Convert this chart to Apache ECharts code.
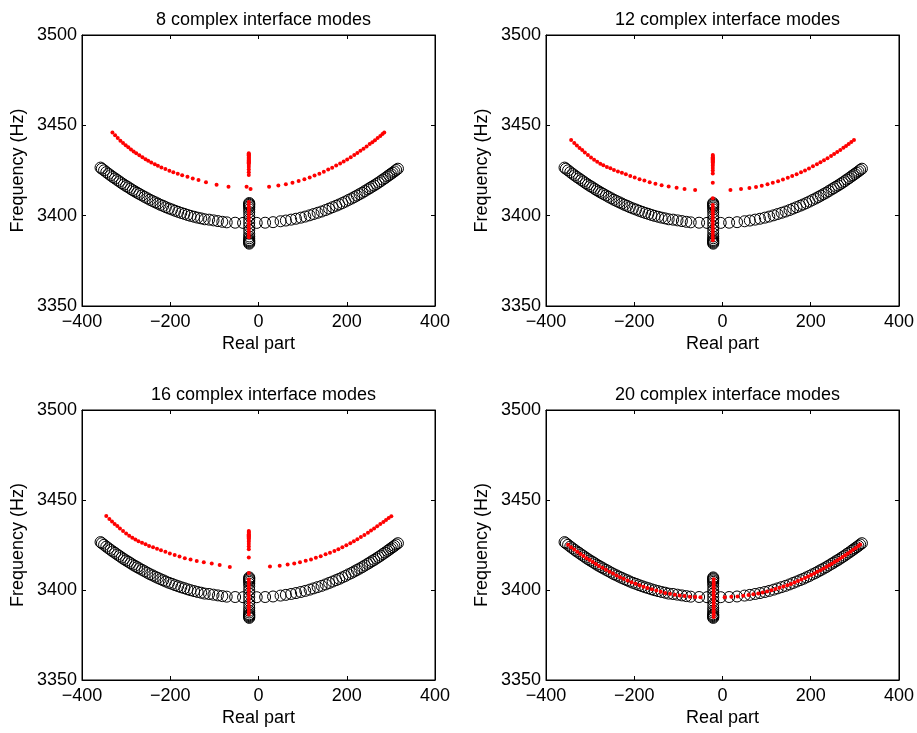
<!DOCTYPE html>
<html>
<head>
<meta charset="utf-8">
<script src="https://cdn.jsdelivr.net/npm/echarts@6/dist/echarts.min.js"></script>
<style>html,body{margin:0;padding:0;background:#fff}#c{width:917px;height:733px}</style>
</head>
<body>
<div id="c"></div>
<script>
// ---------- data ----------
var titles = ['8 complex interface modes','12 complex interface modes','16 complex interface modes','20 complex interface modes'];
var xTicks = [-400,-200,0,200,400];
var yTicks = [3350,3400,3450,3500];

// reference (exact) modes, black open circles - same in every panel
var blackLeft = [[-358,3426.6],[-355,3426.0],[-350,3425.1],[-345,3424.1],[-340,3423.2],[-335,3422.3],[-330,3421.4],[-325,3420.6],[-320,3419.7],[-315,3418.9],[-310,3418.0],[-305,3417.2],[-300,3416.4],[-295,3415.7],[-290,3414.9],[-285,3414.1],[-280,3413.4],[-275,3412.7],[-270,3412.0],[-264,3411.2],[-258,3410.4],[-252,3409.6],[-246,3408.8],[-240,3408.1],[-234,3407.4],[-228,3406.7],[-222,3406.0],[-216,3405.4],[-210,3404.7],[-203,3404.0],[-196,3403.4],[-189,3402.7],[-182,3402.1],[-175,3401.5],[-168,3401.0],[-161,3400.4],[-154,3399.9],[-146,3399.4],[-138,3398.9],[-130,3398.5],[-122,3398.0],[-112,3397.8],[-102,3397.4],[-92,3397.0],[-82,3396.6],[-72,3396.3],[-53,3396.1],[-35,3396.0]];
var blackColumn = [[-21,3384.5],[-21,3385],[-21,3385.5],[-21,3386],[-21,3386.5],[-21,3387.5],[-21,3388.5],[-21,3390],[-21,3392],[-21,3394],[-21,3396],[-21,3398],[-21,3400],[-21,3402],[-21,3403.5],[-21,3404.5],[-21,3405.3],[-21,3406],[-21,3406.5],[-21,3407]];
var blackRight = [[-4,3396.0],[15,3396.1],[33,3396.4],[50,3396.9],[62,3397.3],[74,3397.8],[85,3398.3],[96,3398.9],[106,3399.5],[116,3400.2],[125,3400.9],[134,3401.6],[143,3402.3],[152,3403.1],[160,3403.9],[168,3404.7],[176,3405.5],[183,3406.2],[190,3407.0],[197,3407.8],[204,3408.7],[211,3409.5],[217,3410.3],[223,3411.1],[229,3411.9],[235,3412.7],[241,3413.6],[247,3414.5],[252,3415.2],[257,3416.0],[262,3416.7],[267,3417.5],[272,3418.3],[277,3419.1],[282,3420.0],[287,3420.8],[292,3421.7],[296,3422.4],[300,3423.1],[304,3423.8],[308,3424.5],[312,3425.3],[316,3426.0]];

// approximated modes, red dots - one set per panel
var red8 = [[-331,3446.0],[-325,3444.5],[-319,3443.0],[-313,3441.5],[-307,3440.2],[-301,3439.0],[-295,3437.8],[-289,3436.6],[-283,3435.5],[-277,3434.5],[-270,3433.4],[-263,3432.3],[-256,3431.2],[-250,3430.4],[-243,3429.4],[-235,3428.4],[-228,3427.6],[-220,3426.7],[-211,3425.8],[-202,3424.9],[-193,3424.1],[-183,3423.2],[-173,3422.4],[-161,3421.5],[-149,3420.6],[-136,3419.7],[-119,3418.5],[-95,3417.1],[-68,3416.0],
  [-27,3416.0],[-18,3414.7],
  [-22,3434.5],[-22,3434],[-22,3433.5],[-22,3433],[-22,3432.5],[-22,3432],[-22,3431.5],[-22,3431],[-22,3430.5],[-22,3430],[-22,3429.5],[-22,3429],[-22,3428],[-22,3427],[-22,3425.5],[-22,3424],[-22,3422.5],
  [-22,3407.5],[-22,3406],[-22,3404.5],[-22,3403],[-22,3401.5],[-22,3400],[-22,3398.5],[-22,3397],[-22,3395.5],[-22,3394],[-22,3392.5],[-22,3391],[-22,3389.5],[-22,3388],
  [24,3416.0],[45,3416.7],[62,3417.4],[77,3418.2],[91,3419.2],[104,3420.1],[116,3421.1],[127,3422.2],[138,3423.2],[148,3424.3],[158,3425.5],[167,3426.5],[176,3427.7],[185,3428.9],[193,3430.0],[201,3431.1],[209,3432.3],[217,3433.6],[224,3434.7],[231,3435.9],[238,3437.1],[245,3438.3],[252,3439.6],[258,3440.7],[264,3441.8],[270,3443.0],[276,3444.1],[281,3445.2],[285,3446.0]];
var red12 = [[-343,3441.9],[-336,3440.2],[-330,3438.8],[-324,3437.5],[-318,3436.3],[-312,3435.0],[-305,3433.6],[-298,3432.2],[-291,3431.0],[-284,3429.8],[-277,3428.8],[-270,3427.9],[-262,3427.0],[-254,3426.2],[-246,3425.3],[-237,3424.5],[-228,3423.7],[-219,3422.9],[-209,3422.0],[-199,3421.1],[-188,3420.2],[-177,3419.4],[-165,3418.5],[-152,3417.7],[-138,3416.9],[-122,3416.2],[-104,3415.5],[-86,3414.8],[-62,3414.2],
  [-22,3433.6],[-22,3433],[-22,3432.4],[-22,3431.8],[-22,3431.2],[-22,3430.6],[-22,3430],[-22,3429.4],[-22,3428.6],[-22,3427.6],[-22,3426.4],[-22,3425],[-22,3423.4],[-22,3418.2],[-22,3409.6],
  [-22,3405.9],[-22,3404.4],[-22,3402.9],[-22,3401.4],[-22,3399.9],[-22,3398.4],[-22,3396.9],[-22,3395.4],[-22,3393.9],[-22,3392.4],[-22,3390.9],[-22,3389.4],[-22,3387.9],[-22,3386.4],
  [18,3414.2],[42,3414.7],[61,3415.3],[76,3415.9],[89,3416.6],[102,3417.4],[114,3418.2],[126,3419.1],[137,3420.0],[148,3421.0],[158,3421.9],[168,3422.9],[178,3424.0],[187,3425.0],[196,3426.1],[205,3427.3],[214,3428.4],[222,3429.5],[230,3430.7],[238,3431.8],[246,3433.0],[253,3434.1],[260,3435.3],[267,3436.4],[274,3437.6],[280,3438.6],[286,3439.7],[292,3440.8],[298,3441.9]];
var red16 = [[-345,3441.1],[-338,3439.4],[-332,3438.0],[-326,3436.7],[-320,3435.5],[-314,3434.2],[-307,3432.8],[-300,3431.4],[-293,3430.2],[-286,3429.0],[-279,3428.0],[-272,3427.1],[-264,3426.2],[-256,3425.4],[-248,3424.5],[-239,3423.7],[-230,3422.9],[-221,3422.1],[-211,3421.2],[-201,3420.3],[-190,3419.4],[-179,3418.6],[-167,3417.7],[-154,3416.9],[-140,3416.1],[-124,3415.4],[-106,3414.7],[-88,3413.9],[-65,3412.8],
  [-22,3432.8],[-22,3432.2],[-22,3431.6],[-22,3431],[-22,3430.4],[-22,3429.8],[-22,3429.2],[-22,3428.6],[-22,3427.8],[-22,3426.8],[-22,3425.6],[-22,3424.2],[-22,3422.6],[-22,3418],[-22,3409.5],
  [-22,3405.9],[-22,3404.4],[-22,3402.9],[-22,3401.4],[-22,3399.9],[-22,3398.4],[-22,3396.9],[-22,3395.4],[-22,3393.9],[-22,3392.4],[-22,3390.9],[-22,3389.4],[-22,3387.9],[-22,3386.4],
  [26,3413.0],[48,3413.5],[66,3414.1],[81,3414.7],[94,3415.4],[107,3416.2],[119,3417.0],[130,3417.9],[141,3418.8],[152,3419.8],[162,3420.7],[172,3421.7],[181,3422.7],[190,3423.7],[199,3424.8],[208,3426.0],[216,3427.1],[224,3428.2],[232,3429.4],[240,3430.6],[248,3431.8],[255,3433.0],[262,3434.2],[269,3435.4],[276,3436.6],[283,3437.8],[289,3438.9],[295,3440.0],[301,3441.0]];
var red20 = [[-350,3425.1],[-343,3423.8],[-336,3422.5],[-329,3421.3],[-322,3420.0],[-315,3418.9],[-308,3417.7],[-301,3416.6],[-294,3415.5],[-287,3414.4],[-280,3413.4],[-272,3412.3],[-264,3411.2],[-256,3410.1],[-248,3409.1],[-240,3408.1],[-232,3407.1],[-224,3406.2],[-215,3405.3],[-206,3404.3],[-197,3403.5],[-188,3402.6],[-179,3401.8],[-170,3401.1],[-160,3400.4],[-150,3399.7],[-140,3399.0],[-130,3398.4],[-119,3397.9],[-108,3397.4],[-97,3397.0],[-86,3396.6],[-74,3396.3],[-62,3396.1],[-50,3396.0],
  [-20,3385],[-20,3386.5],[-20,3388],[-20,3389.5],[-20,3391],[-20,3392.5],[-20,3394],[-20,3395.5],[-20,3397],[-20,3398.5],[-20,3400],[-20,3401.5],[-20,3403],[-20,3404.5],[-20,3406],
  [5,3396.0],[20,3396.2],[34,3396.4],[47,3396.8],[59,3397.2],[70,3397.6],[81,3398.1],[91,3398.6],[101,3399.2],[111,3399.9],[120,3400.5],[129,3401.2],[138,3401.9],[147,3402.7],[155,3403.4],[163,3404.2],[171,3405.0],[179,3405.8],[187,3406.7],[194,3407.5],[201,3408.3],[208,3409.2],[215,3410.1],[222,3411.0],[229,3411.9],[236,3412.9],[242,3413.7],[248,3414.6],[254,3415.5],[260,3416.4],[266,3417.4],[272,3418.3],[278,3419.3],[284,3420.3],[290,3421.3],[296,3422.4],[302,3423.4],[308,3424.5],[312,3425.3]];

// ---------- chart ----------
var redSets = [red8, red12, red16, red20];
var blackAll = blackLeft.concat(blackColumn, blackRight);
var FONT = '"Liberation Sans", Arial, Helvetica, sans-serif';
function fmt(v) { return v < 0 ? '\u2212' + String(-v) : String(v); }
var panels = [
  {left: 82, top: 35, width: 353, height: 271},
  {left: 546, top: 35, width: 353, height: 271},
  {left: 82, top: 410, width: 353, height: 270},
  {left: 546, top: 410, width: 353, height: 270}
];
var grids = [], xAxes = [], yAxes = [], series = [], titleOpts = [];
panels.forEach(function (p, i) {
  grids.push({left: p.left, top: p.top, width: p.width, height: p.height, show: true,
    borderColor: '#000', borderWidth: 1, backgroundColor: '#fff', containLabel: false});
  var axisCommon = {gridIndex: i, axisLine: {show: true, onZero: false, lineStyle: {color: '#000', width: 1}},
    axisTick: {show: true, inside: true, length: 4, lineStyle: {color: '#000'}},
    splitLine: {show: false}};
  xAxes.push(Object.assign({}, axisCommon, {type: 'value', position: 'bottom', min: xTicks[0], max: xTicks[xTicks.length-1], interval: 200,
    axisLabel: {show: true, margin: 7, color: '#000', fontSize: 18, fontFamily: FONT, formatter: fmt},
    name: 'Real part', nameLocation: 'middle', nameGap: 29,
    nameTextStyle: {color: '#000', fontSize: 18, fontFamily: FONT}}));
  xAxes.push(Object.assign({}, axisCommon, {type: 'value', position: 'top', min: xTicks[0], max: xTicks[xTicks.length-1], interval: 200,
    axisLabel: {show: false}}));
  yAxes.push(Object.assign({}, axisCommon, {type: 'value', position: 'left', min: yTicks[0], max: yTicks[yTicks.length-1], interval: 50,
    axisLabel: {show: true, margin: 5, color: '#000', fontSize: 18, fontFamily: FONT, formatter: fmt},
    name: 'Frequency (Hz)', nameLocation: 'middle', nameGap: 55, nameRotate: 90,
    nameTextStyle: {color: '#000', fontSize: 18, fontFamily: FONT}}));
  yAxes.push(Object.assign({}, axisCommon, {type: 'value', position: 'right', min: yTicks[0], max: yTicks[yTicks.length-1], interval: 50,
    axisLabel: {show: false}}));
  titleOpts.push({text: titles[i], left: p.left + p.width / 2, top: p.top - 29, textAlign: 'center',
    textStyle: {color: '#000', fontSize: 18, fontWeight: 'normal', fontFamily: FONT}});
  series.push({type: 'scatter', xAxisIndex: 2*i, yAxisIndex: 2*i, data: blackAll, symbol: 'circle', symbolSize: 11,
    itemStyle: {color: 'rgba(255,255,255,0)', borderColor: '#000', borderWidth: 1, opacity: 1}, silent: true, z: 2});
  series.push({type: 'scatter', xAxisIndex: 2*i, yAxisIndex: 2*i, data: redSets[i], symbol: 'circle', symbolSize: 4,
    itemStyle: {color: '#ff0000', opacity: 1}, silent: true, z: 3});
});
var chart = echarts.init(document.getElementById('c'), null, {renderer: 'canvas'});
chart.setOption({animation: false, backgroundColor: '#fff', title: titleOpts, grid: grids,
  xAxis: xAxes, yAxis: yAxes, series: series});
</script>
</body>
</html>
